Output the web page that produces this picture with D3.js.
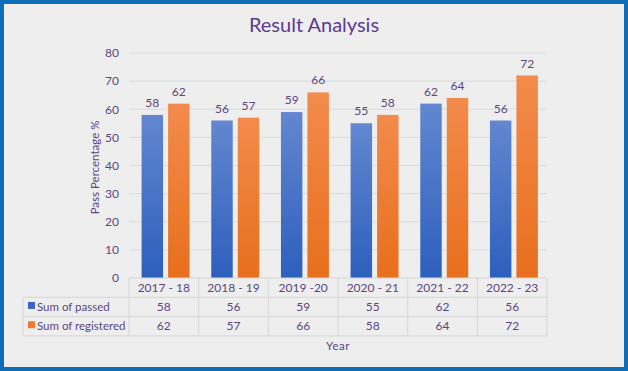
<!DOCTYPE html>
<html>
<head>
<meta charset="utf-8">
<script src="https://cdn.jsdelivr.net/npm/d3@7"></script>
<style>
  body { margin: 0; background: #fff; }
  text { font-family: Lato, "Open Sans", sans-serif; }
</style>
</head>
<body>
<div id="chart"></div>
<script>
var years = ["2017 - 18", "2018 - 19", "2019 -20", "2020 - 21", "2021 - 22", "2022 - 23"];
var passed = [58, 56, 59, 55, 62, 56];
var registered = [62, 57, 66, 58, 64, 72];
var seriesNames = ["Sum of passed", "Sum of registered"];
var yTicks = [0, 10, 20, 30, 40, 50, 60, 70, 80];

var W = 628, H = 371;
var plot = { left: 129, right: 547, top: 53, bottom: 278 };
var rowH = 19.3;
var txtColor = "#5a4680";

var svg = d3.select("#chart").append("svg")
  .attr("width", W).attr("height", H);

var defs = svg.append("defs");
function grad(id, c1, c2) {
  var g = defs.append("linearGradient").attr("id", id)
    .attr("x1", 0).attr("y1", 0).attr("x2", 0).attr("y2", 1);
  g.append("stop").attr("offset", "0%").attr("stop-color", c1);
  g.append("stop").attr("offset", "100%").attr("stop-color", c2);
}
grad("gBlue", "#6387d0", "#2d5fbd");
grad("gOrange", "#f28b4c", "#e86f1c");
var fills = ["url(#gBlue)", "url(#gOrange)"];
var keyColors = ["#3a66c2", "#ed7b2f"];

// background and frame
svg.append("rect").attr("x", 2).attr("y", 2).attr("width", W - 4).attr("height", H - 4)
  .attr("fill", "#eeeeee").attr("stroke", "#0f6cb6").attr("stroke-width", 4);

svg.append("text").attr("x", 314).attr("y", 32).attr("text-anchor", "middle")
  .attr("font-size", 20).attr("fill", "#5b3a90").text("Result Analysis");

var x = d3.scaleBand().domain(years).range([plot.left, plot.right]);
var xs = d3.scaleBand().domain([0, 1]).range([0, x.bandwidth()])
  .paddingInner(0.19).paddingOuter(0.41).align(0.58);
var y = d3.scaleLinear().domain([0, 80]).range([plot.bottom, plot.top]);

// gridlines
svg.append("g").selectAll("line").data(yTicks.slice(1)).enter().append("line")
  .attr("x1", plot.left).attr("x2", plot.right)
  .attr("y1", function(d) { return y(d); }).attr("y2", function(d) { return y(d); })
  .attr("stroke", "#dadada").attr("stroke-width", 1);

// y axis labels
var yAxis = d3.axisLeft(y).tickValues(yTicks).tickSize(0).tickPadding(10);
var ya = svg.append("g").attr("transform", "translate(" + plot.left + ",0)").call(yAxis);
ya.select(".domain").remove();
ya.selectAll("text").attr("font-size", 12).attr("fill", txtColor)
  .style("font-family", "Lato, sans-serif");

svg.append("text")
  .attr("transform", "translate(99," + ((plot.top + plot.bottom) / 2 + 2) + ") rotate(-90)")
  .attr("text-anchor", "middle").attr("font-size", 11.5).attr("fill", txtColor)
  .text("Pass Percentage %");

var series = [passed, registered];
series.forEach(function(vals, si) {
  var g = svg.append("g");
  g.selectAll("rect").data(vals).enter().append("rect")
    .attr("x", function(d, i) { return x(years[i]) + xs(si); })
    .attr("width", xs.bandwidth())
    .attr("y", function(d) { return y(d); })
    .attr("height", function(d) { return plot.bottom - y(d); })
    .attr("fill", fills[si]);
  g.selectAll("text").data(vals).enter().append("text")
    .attr("x", function(d, i) { return x(years[i]) + xs(si) + xs.bandwidth() / 2; })
    .attr("y", function(d) { return y(d) - 8; })
    .attr("text-anchor", "middle").attr("font-size", 12).attr("fill", txtColor)
    .text(function(d) { return d; });
});

// data table
var tLeft = 23;
var tbl = svg.append("g").attr("stroke", "#d6d6d6").attr("stroke-width", 1);
[0, 1, 2].forEach(function(r) {
  var yy = plot.bottom + rowH * (r + 1);
  tbl.append("line").attr("x1", tLeft).attr("x2", plot.right).attr("y1", yy).attr("y2", yy);
});
tbl.append("line").attr("x1", plot.left).attr("x2", plot.right)
  .attr("y1", plot.bottom).attr("y2", plot.bottom);
tbl.append("line").attr("x1", tLeft).attr("x2", tLeft)
  .attr("y1", plot.bottom + rowH).attr("y2", plot.bottom + rowH * 3);
years.concat([null]).forEach(function(yr, i) {
  var xx = i < years.length ? x(yr) : plot.right;
  tbl.append("line").attr("x1", xx).attr("x2", xx)
    .attr("y1", plot.bottom).attr("y2", plot.bottom + rowH * 3);
});

svg.append("g").selectAll("text").data(years).enter().append("text")
  .attr("x", function(d) { return x(d) + x.bandwidth() / 2; })
  .attr("y", plot.bottom + rowH / 2 + 4)
  .attr("text-anchor", "middle").attr("font-size", 12).attr("fill", txtColor)
  .text(function(d) { return d; });

series.forEach(function(vals, si) {
  var cy = plot.bottom + rowH * (si + 1) + rowH / 2 + 4;
  svg.append("rect").attr("x", 28).attr("y", cy - 9).attr("width", 7).attr("height", 7)
    .attr("fill", keyColors[si]);
  svg.append("text").attr("x", 37).attr("y", cy).attr("font-size", 11.5).attr("fill", txtColor)
    .text(seriesNames[si]);
  svg.append("g").selectAll("text").data(vals).enter().append("text")
    .attr("x", function(d, i) { return x(years[i]) + x.bandwidth() / 2; })
    .attr("y", cy).attr("text-anchor", "middle").attr("font-size", 12).attr("fill", txtColor)
    .text(function(d) { return d; });
});

svg.append("text").attr("x", 338).attr("y", 350).attr("text-anchor", "middle")
  .attr("font-size", 11.5).attr("fill", txtColor).attr("letter-spacing", 0.5).text("Year");
</script>
</body>
</html>
